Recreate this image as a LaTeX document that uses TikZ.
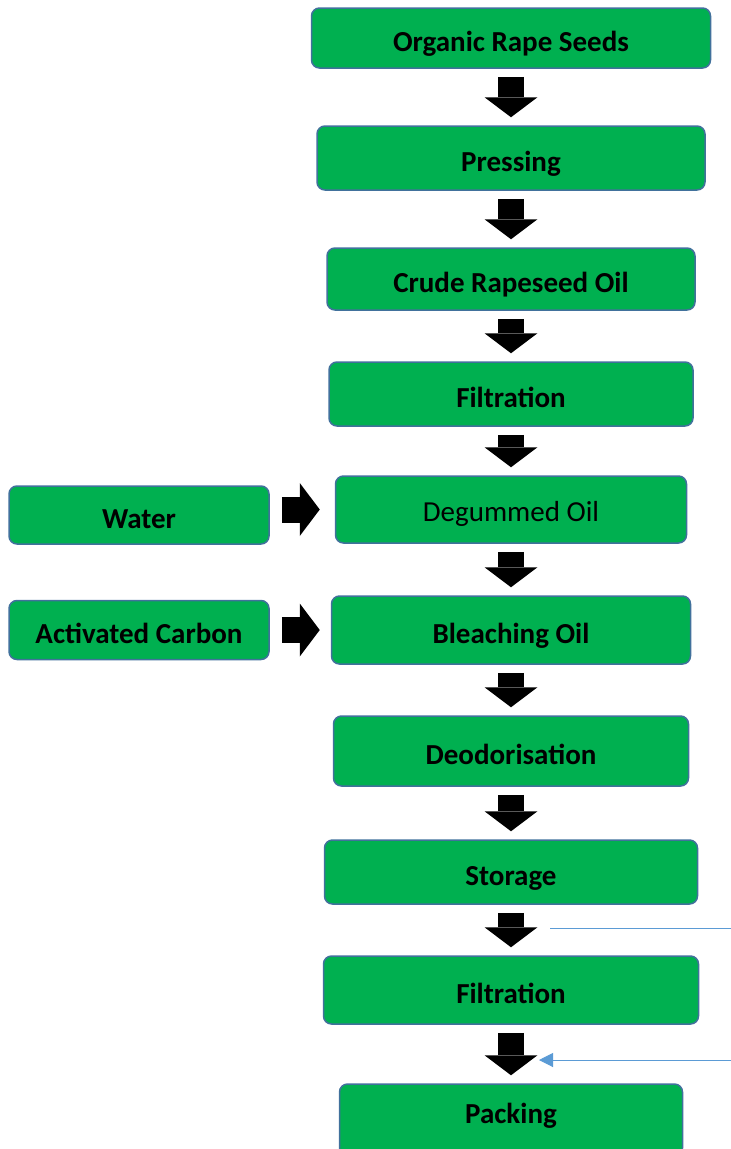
\documentclass[tikz,border=0pt]{standalone}
\usepackage{fontspec}
\setmainfont{Carlito}
\usetikzlibrary{positioning,arrows.meta}
\definecolor{boxgreen}{HTML}{00B050}
\definecolor{boxedge}{HTML}{41719C}
\definecolor{noteblue}{HTML}{5B9BD5}
\tikzset{process/.style={rectangle,rounded corners=8pt,draw=boxedge,line width=1.5pt,fill=boxgreen,inner sep=0pt,text height=27pt,text depth=1pt,font=\fontsize{29}{33}\selectfont\bfseries}}
\tikzset{flow arrow/.style={line width=26pt,-{Triangle[length=20pt,width=53pt,line width=0pt]},shorten <=8pt,shorten >=8pt}}
\tikzset{note line/.style={draw=noteblue,line width=1pt}}

\begin{document}
\begin{tikzpicture}[x=1pt,y=-1pt,node distance=121pt]
\useasboundingbox (0,0) rectangle (731,1149);
\node[process,minimum width=399pt,minimum height=60pt](seeds) at (511,38){Organic Rape Seeds};
\node[process,minimum width=388pt,minimum height=64pt,node distance=120pt](press)[below of=seeds]{Pressing};
\node[process,minimum width=368pt,minimum height=62pt](crude)[below of=press]{Crude Rapeseed Oil};
\node[process,minimum width=364pt,minimum height=64pt,node distance=115pt](filt1)[below of=crude]{Filtration};
\node[process,minimum width=351pt,minimum height=67pt,node distance=115.5pt,text height=25pt,font=\fontsize{29}{33}\selectfont](degum)[below of=filt1]{Degummed Oil};
\node[process,minimum width=359pt,minimum height=68pt,node distance=120.5pt](bleach)[below of=degum]{Bleaching Oil};
\node[process,minimum width=355pt,minimum height=70pt](deodor)[below of=bleach]{Deodorisation};
\node[process,minimum width=373pt,minimum height=64pt](storage)[below of=deodor]{Storage};
\node[process,minimum width=375pt,minimum height=68pt,node distance=118pt](filt2)[below of=storage]{Filtration};
\node[process,minimum width=343pt,minimum height=72pt,node distance=130pt,text height=18pt,text depth=12pt](pack)[below of=filt2]{Packing};
\node[process,minimum width=260pt,minimum height=58pt,yshift=-5.5pt](water)[left=65pt of degum]{Water};
\node[process,minimum width=260pt,minimum height=59pt](carbon)[left=61pt of bleach]{Activated Carbon};
% main flow
\draw[flow arrow](seeds) -- (press);
\draw[flow arrow](press) -- (crude);
\draw[flow arrow](crude) -- (filt1);
\draw[flow arrow](filt1) -- (degum);
\draw[flow arrow](degum) -- (bleach);
\draw[flow arrow](bleach) -- (deodor);
\draw[flow arrow](deodor) -- (storage);
\draw[flow arrow](storage) -- (filt2);
\draw[flow arrow](filt2) -- (pack);
% inputs
\draw[flow arrow,shorten <=12pt,shorten >=15pt](water.east |- degum) -- (degum.west);
\draw[flow arrow,shorten <=12pt,shorten >=11pt](carbon.east |- bleach) -- (bleach.west);
% side lines
\coordinate(lineA) at (550,928);
\coordinate(lineB) at (731,928);
\coordinate(lineC) at (731,1060);
\coordinate(lineD) at (539,1060);
\draw[note line](lineA) -- (lineB);
\draw[note line,-{Triangle[length=14pt,width=14pt]}](lineC) -- (lineD);
\end{tikzpicture}
\end{document}
